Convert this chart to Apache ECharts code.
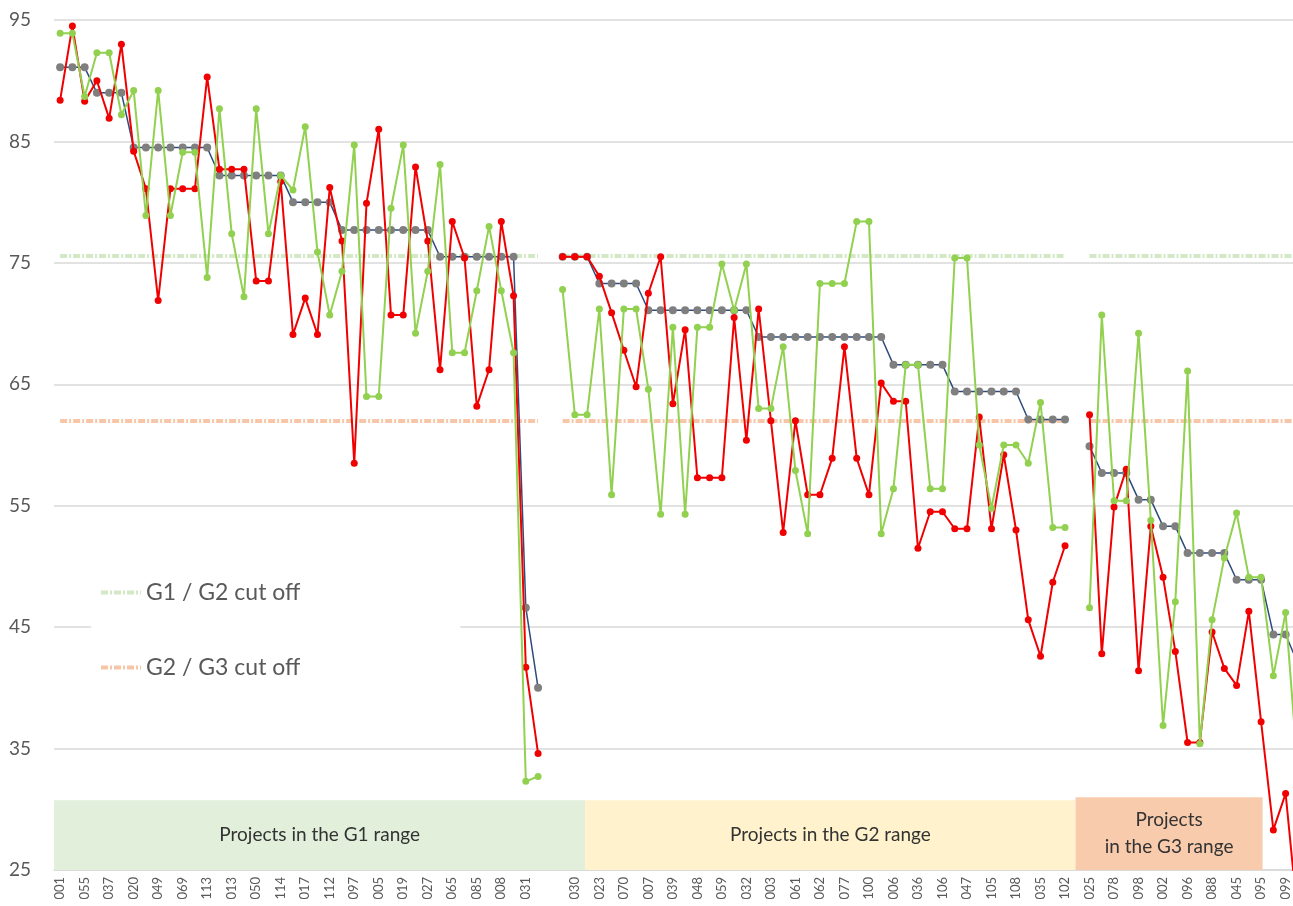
<!DOCTYPE html>
<html>
<head>
<meta charset="utf-8">
<title>Projects by range</title>
<script src="https://cdn.jsdelivr.net/npm/echarts@6/dist/echarts.min.js"></script>
<style>
  html, body { margin: 0; padding: 0; background: #fff; overflow: hidden; }
  /* the plot runs a little past the right edge of the window, as in the source picture */
  #chart { width: 1304px; height: 906px; }
</style>
</head>
<body>
<div id="chart"></div>
<script>
// project codes, only every second one is printed on the axis (the others are unknown)
const categories = [
  '001', '', '055', '', '037', '', '020', '', '049', '', '069', '', '113', '', '013', '', '050', '', '114', '',
  '017', '', '112', '', '097', '', '005', '', '019', '', '027', '', '065', '', '085', '', '008', '', '031', '',
  '', '', '030', '', '023', '', '070', '', '007', '', '039', '', '048', '', '059', '', '032', '', '003', '',
  '061', '', '062', '', '077', '', '100', '', '006', '', '036', '', '106', '', '047', '', '105', '', '108', '',
  '035', '', '102', '', '025', '', '078', '', '098', '', '002', '', '096', '', '088', '', '045', '', '095', '',
  '099', ''
];

// step line: average of each band
const groupAverage = [
  91.1, 91.1, 91.1, 89.0, 89.0, 89.0, 84.5, 84.5, 84.5, 84.5, 84.5, 84.5, 84.5, 82.2, 82.2, 82.2, 82.2, 82.2, 82.2, 80.0,
  80.0, 80.0, 80.0, 77.7, 77.7, 77.7, 77.7, 77.7, 77.7, 77.7, 77.7, 75.5, 75.5, 75.5, 75.5, 75.5, 75.5, 75.5, 46.6, 40.0,
  null, 75.5, 75.5, 75.5, 73.3, 73.3, 73.3, 73.3, 71.1, 71.1, 71.1, 71.1, 71.1, 71.1, 71.1, 71.1, 71.1, 68.9, 68.9, 68.9,
  68.9, 68.9, 68.9, 68.9, 68.9, 68.9, 68.9, 68.9, 66.6, 66.6, 66.6, 66.6, 66.6, 64.4, 64.4, 64.4, 64.4, 64.4, 64.4, 62.1,
  62.1, 62.1, 62.1, null, 59.9, 57.7, 57.7, 57.7, 55.5, 55.5, 53.3, 53.3, 51.1, 51.1, 51.1, 51.1, 48.9, 48.9, 48.9, 44.4,
  44.4, 42.0
];

// green series
const scoreGreen = [
  93.9, 93.9, 88.7, 92.3, 92.3, 87.2, 89.2, 78.9, 89.2, 78.9, 84.1, 84.1, 73.8, 87.7, 77.4, 72.2, 87.7, 77.4, 82.2, 81.0,
  86.2, 75.9, 70.7, 74.3, 84.7, 64.0, 64.0, 79.5, 84.7, 69.2, 74.3, 83.1, 67.6, 67.6, 72.7, 78.0, 72.7, 67.6, 32.3, 32.7,
  null, 72.8, 62.5, 62.5, 71.2, 55.9, 71.2, 71.2, 64.6, 54.3, 69.7, 54.3, 69.7, 69.7, 74.9, 71.1, 74.9, 63.0, 63.0, 68.1,
  57.9, 52.7, 73.3, 73.3, 73.3, 78.4, 78.4, 52.7, 56.4, 66.6, 66.6, 56.4, 56.4, 75.4, 75.4, 60.0, 54.8, 60.0, 60.0, 58.5,
  63.5, 53.2, 53.2, null, 46.6, 70.7, 55.4, 55.4, 69.2, 53.8, 36.9, 47.1, 66.1, 35.4, 45.6, 50.7, 54.4, 49.1, 49.1, 41.0,
  46.2, 33.1
];

// red series
const scoreRed = [
  88.4, 94.5, 88.3, 90.0, 86.9, 93.0, 84.2, 81.1, 71.9, 81.1, 81.1, 81.1, 90.3, 82.7, 82.7, 82.7, 73.5, 73.5, 81.7, 69.1,
  72.1, 69.1, 81.2, 76.8, 58.5, 79.9, 86.0, 70.7, 70.7, 82.9, 76.8, 66.2, 78.4, 75.4, 63.2, 66.2, 78.4, 72.3, 41.7, 34.6,
  null, 75.5, 75.5, 75.5, 73.9, 70.9, 67.8, 64.8, 72.5, 75.5, 63.4, 69.5, 57.3, 57.3, 57.3, 70.5, 60.4, 71.2, 62.0, 52.8,
  62.0, 55.9, 55.9, 58.9, 68.1, 58.9, 55.9, 65.1, 63.6, 63.6, 51.5, 54.5, 54.5, 53.1, 53.1, 62.3, 53.1, 59.2, 53.0, 45.6,
  42.6, 48.7, 51.7, null, 62.5, 42.8, 54.9, 58.0, 41.4, 53.3, 49.1, 43.0, 35.5, 35.5, 44.6, 41.6, 40.2, 46.3, 37.2, 28.3,
  31.3, 21.0
];

// cut-off levels and the index span of each group on the axis
const cutG1G2 = 75.6;
const cutG2G3 = 62.0;
const groupSpans = [[0, 39], [41, 82], [84, 101]];

// text boxes along the bottom
const bandLabels = ['Projects in the G1 range', 'Projects in the G2 range', 'Projects\nin the G3 range'];

// layout of the boxes (category index units / value units)
const bandLayout = [
  { from: -0.5, to: 42.86, top: 30.75, color: '#e2efda' },
  { from: 42.86, to: 82.86, top: 30.75, color: '#fff2cc' },
  { from: 82.86, to: 98.12, top: 31.0, color: '#f8cbad' }
];

const FONT = 'Lato, "Open Sans", sans-serif';
const DASH = [7, 2, 2, 2];

const chart = echarts.init(document.getElementById('chart'));

function cutoffSeries(name, value, color) {
  return {
    name: name,
    type: 'line',
    data: [],
    symbol: 'none',
    z: 2,
    lineStyle: { color: color, width: 4, type: DASH },
    itemStyle: { color: color },
    markLine: {
      silent: true,
      z: 2,
      symbol: 'none',
      label: { show: false },
      emphasis: { disabled: true },
      lineStyle: { color: color, width: 4, type: DASH },
      data: groupSpans.map(s => [{ coord: [s[0], value] }, { coord: [s[1], value] }])
    }
  };
}

const option = {
  animation: false,
  backgroundColor: '#fff',
  grid: { left: 54, top: 20, right: 0, bottom: 36 },
  legend: {
    data: ['G1 / G2 cut off', 'G2 / G3 cut off'],
    orient: 'vertical',
    left: 91,
    top: 565,
    padding: [14, 160, 14, 8],
    backgroundColor: '#fff',
    itemWidth: 40,
    itemHeight: 14,
    itemGap: 48,
    selectedMode: false,
    itemStyle: { opacity: 0 },
    lineStyle: { width: 4, type: DASH },
    textStyle: { fontFamily: FONT, fontSize: 23, lineHeight: 27, color: '#595959' }
  },
  xAxis: [
    {
      type: 'category',
      data: categories,
      boundaryGap: true,
      axisLine: { show: true, lineStyle: { color: '#d9d9d9', width: 1.5 } },
      axisTick: { show: false },
      axisLabel: {
        interval: 1,
        rotate: 90,
        margin: 7,
        fontFamily: FONT,
        fontSize: 13,
        color: '#595959'
      }
    },
    {
      type: 'value',
      min: -0.5,
      max: categories.length - 0.5,
      show: false
    }
  ],
  yAxis: {
    type: 'value',
    min: 25,
    max: 95,
    interval: 10,
    axisLine: { show: false },
    axisTick: { show: false },
    splitLine: { lineStyle: { color: '#d9d9d9', width: 1.5 } },
    axisLabel: { margin: 23, fontFamily: FONT, fontSize: 19, color: '#595959' }
  },
  series: [
    {
      name: 'bands',
      type: 'line',
      xAxisIndex: 1,
      data: [],
      z: 1,
      markArea: {
        silent: true,
        data: bandLayout.map((b, i) => [
          {
            name: bandLabels[i],
            coord: [b.from, b.top],
            itemStyle: { color: b.color },
            label: {
              show: true,
              position: 'inside',
              align: 'center',
              fontFamily: FONT,
              fontSize: 19,
              lineHeight: 27,
              color: '#333'
            }
          },
          { coord: [b.to, 25] }
        ])
      }
    },
    cutoffSeries('G1 / G2 cut off', cutG1G2, '#d3e8c5'),
    cutoffSeries('G2 / G3 cut off', cutG2G3, '#f7c6a8'),
    {
      name: 'Group average',
      type: 'line',
      data: groupAverage,
      z: 3,
      symbol: 'circle',
      symbolSize: 8,
      lineStyle: { color: '#2f4b7c', width: 1.5 },
      itemStyle: { color: '#7f7f7f', borderWidth: 0 }
    },
    {
      name: 'Score red',
      type: 'line',
      data: scoreRed,
      z: 4,
      symbol: 'circle',
      symbolSize: 7,
      lineStyle: { color: '#f00000', width: 2 },
      itemStyle: { color: '#f00000', borderWidth: 0 }
    },
    {
      name: 'Score green',
      type: 'line',
      data: scoreGreen,
      z: 5,
      symbol: 'circle',
      symbolSize: 7,
      lineStyle: { color: '#92d050', width: 2 },
      itemStyle: { color: '#92d050', borderWidth: 0 }
    }
  ]
};

chart.setOption(option);
</script>
</body>
</html>
